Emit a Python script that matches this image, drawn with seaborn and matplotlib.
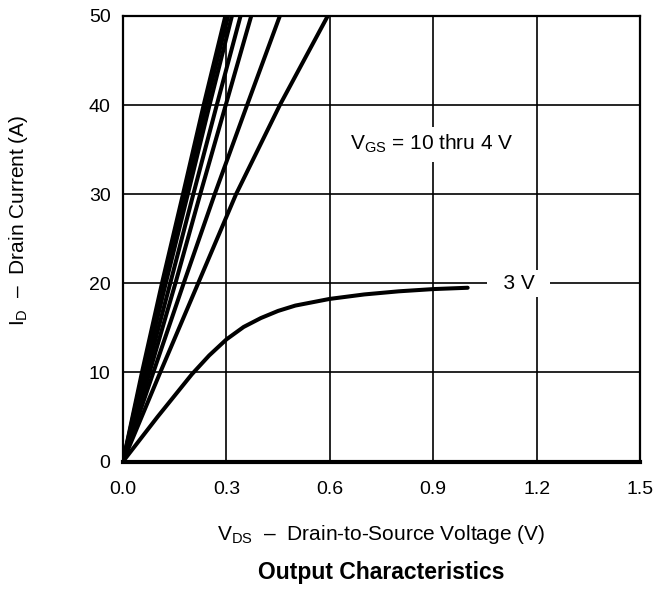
import matplotlib
matplotlib.use("Agg")
import matplotlib.pyplot as plt
import seaborn as sns
import pandas as pd

# ---- data ----
id_levels = [0, 10, 20, 30, 40, 50]
vds_10v = [0.0, 0.055, 0.113, 0.174, 0.234, 0.297]
vds_9v = [0.0, 0.058, 0.118, 0.180, 0.241, 0.305]
vds_8v = [0.0, 0.062, 0.124, 0.188, 0.251, 0.316]
vds_7v = [0.0, 0.069, 0.137, 0.204, 0.272, 0.341]
vds_6v = [0.0, 0.077, 0.152, 0.224, 0.298, 0.372]
vds_5v = [0.0, 0.088, 0.176, 0.266, 0.360, 0.455]
vds_4v = [0.0, 0.108, 0.218, 0.328, 0.455, 0.594]
vds_3v = [0.0, 0.05, 0.1, 0.15, 0.2, 0.25, 0.3, 0.35, 0.4, 0.45, 0.5, 0.6, 0.7, 0.8, 0.9, 1.0]
id_3v = [0, 2.5, 5.0, 7.4, 9.8, 11.9, 13.7, 15.1, 16.1, 16.9, 17.5, 18.25, 18.75, 19.1, 19.35, 19.5]

x_ticks = [0.0, 0.3, 0.6, 0.9, 1.2, 1.5]
x_tick_labels = ["0.0", "0.3", "0.6", "0.9", "1.2", "1.5"]
y_ticks = [0, 10, 20, 30, 40, 50]
y_tick_labels = ["0", "10", "20", "30", "40", "50"]

curves = {
    "10 V": (vds_10v, id_levels), "9 V": (vds_9v, id_levels), "8 V": (vds_8v, id_levels),
    "7 V": (vds_7v, id_levels), "6 V": (vds_6v, id_levels), "5 V": (vds_5v, id_levels),
    "4 V": (vds_4v, id_levels), "3 V": (vds_3v, id_3v),
}
rows = []
for name, (xs, ys) in curves.items():
    for xv, yv in zip(xs, ys):
        rows.append({"vgs": name, "vds": xv, "id": yv})
df = pd.DataFrame(rows)

sns.set_style("white")
plt.rcParams["font.family"] = ["Liberation Sans", "DejaVu Sans"]
plt.rcParams["text.color"] = "black"
plt.rcParams["axes.labelcolor"] = "black"
plt.rcParams["mathtext.fontset"] = "custom"
plt.rcParams["mathtext.rm"] = "Liberation Sans"
plt.rcParams["mathtext.it"] = "Liberation Sans:italic"
plt.rcParams["mathtext.bf"] = "Liberation Sans:bold"

fig = plt.figure(figsize=(6.56, 5.89), dpi=100)
ax = fig.add_axes([123 / 656, 1 - 461.5 / 589, (640 - 123) / 656, (461.5 - 16) / 589])

ax.set_xlim(0, 1.5)
ax.set_ylim(0, 50)
ax.set_xticks(x_ticks)
ax.set_xticklabels(x_tick_labels)
ax.set_yticks(y_ticks)
ax.set_yticklabels(y_tick_labels)
ax.grid(True, color="black", lw=1.2, zorder=1)
ax.set_axisbelow(True)

sns.lineplot(data=df, x="vds", y="id", units="vgs", estimator=None, sort=False,
             color="black", lw=2.9, ax=ax, legend=False, zorder=3)

for s in ax.spines.values():
    s.set_color("black")
    s.set_linewidth(1.6)
ax.spines["bottom"].set_linewidth(3.0)

ax.tick_params(axis="both", length=0, labelsize=14, colors="black")
ax.tick_params(axis="x", pad=14)
ax.tick_params(axis="y", pad=9)

ax.set_xlabel(r"V$_{\mathrm{DS}}$  –  Drain-to-Source Voltage (V)", fontsize=15, labelpad=18,
              color="black")
ax.set_ylabel(r"I$_{\mathrm{D}}$  –  Drain Current (A)", fontsize=15, color="black")
ax.yaxis.set_label_coords(-0.18, 0.542)

ax.text(0.897, 35.6, r"V$_{\mathrm{GS}}$ = 10 thru 4 V", fontsize=15, ha="center", va="center",
        color="black", zorder=4, bbox=dict(boxstyle="square,pad=0.3", fc="white", ec="none"))
ax.text(1.148, 20.0, "  3 V  ", fontsize=15, ha="center", va="center", zorder=4,
        color="black", bbox=dict(boxstyle="square,pad=0.2", fc="white", ec="none"))

fig.text(381 / 656, 1 - 573 / 589, "Output Characteristics", fontsize=16.5,
         fontweight="bold", ha="center", va="center", color="black")

fig.savefig("out.png", dpi=100)
